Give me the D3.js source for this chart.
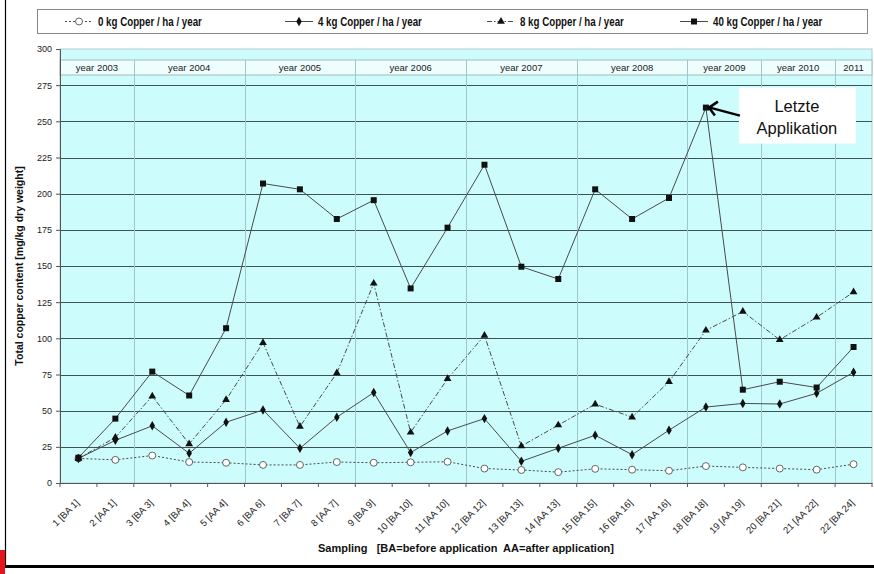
<!DOCTYPE html>
<html>
<head>
<meta charset="utf-8">
<script src="https://cdn.jsdelivr.net/npm/d3@7"></script>
<style>
  html, body { margin: 0; padding: 0; background: #fff; }
  svg { display: block; font-family: Arial, "Liberation Sans", sans-serif; }
</style>
</head>
<body>
<svg id="chart" width="874" height="574"></svg>
<script>
// Sampling dates (x categories)
const samples = ["1 [BA 1]", "2 [AA 1]", "3 [BA 3]", "4 [BA 4]", "5 [AA 4]", "6 [BA 6]",
  "7 [BA 7]", "8 [AA 7]", "9 [BA 9]", "10 [BA 10]", "11 [AA 10]", "12 [BA 12]",
  "13 [BA 13]", "14 [AA 13]", "15 [BA 15]", "16 [BA 16]", "17 [AA 16]", "18 [BA 18]",
  "19 [AA 19]", "20 [BA 21]", "21 [AA 22]", "22 [BA 24]"];

// Total copper content [mg/kg dry weight] per treatment
const cu0  = [17, 16, 19, 14.5, 14, 12.5, 12.5, 14.5, 14, 14.3, 14.7, 10, 9, 7.5, 9.8, 9.2, 8.5, 11.7, 10.8, 10, 9.2, 13];
const cu4  = [17, 29.5, 39.5, 20.5, 42, 50.5, 24, 45.5, 62.5, 21, 36, 44.5, 15, 24, 33, 19.6, 36.5, 52.5, 55, 54.6, 62, 76.5];
const cu8  = [17, 31.5, 60, 27, 57.5, 97, 39, 76, 138, 35, 72, 102, 25.5, 40, 54.5, 45.5, 70, 105.5, 118.5, 99, 114.5, 132];
const cu40 = [17.5, 44.5, 77, 60.5, 107, 207, 203, 182.5, 195.5, 134.5, 176.5, 220, 149.5, 141, 203, 182.5, 197, 259.5, 64.5, 70, 66, 94];

// Year groups along the top of the plot: label and number of samplings
const years = ["year 2003", "year 2004", "year 2005", "year 2006", "year 2007", "year 2008", "year 2009", "year 2010", "2011"];
const yearSpans = [2, 3, 3, 3, 3, 3, 2, 2, 1];

const legendLabels = ["0 kg Copper / ha / year", "4 kg Copper / ha / year", "8 kg Copper / ha / year", "40 kg Copper / ha / year"];
const yTicks = [0, 25, 50, 75, 100, 125, 150, 175, 200, 225, 250, 275, 300];

const svg = d3.select("#chart");
const plot = { left: 60, right: 872, top: 49, bottom: 483 };

const x = d3.scaleBand().domain(samples).range([plot.left, plot.right]).paddingInner(0).paddingOuter(0);
const y = d3.scaleLinear().domain([0, 300]).range([plot.bottom, plot.top]);
const cx = d => x(d) + x.bandwidth() / 2;

// outer frame pieces
svg.append("line").attr("x1", 5.5).attr("x2", 5.5).attr("y1", 0).attr("y2", 567)
  .attr("stroke", "#000").attr("stroke-width", 1.2);
svg.append("rect").attr("x", 5).attr("y", 565).attr("width", 869).attr("height", 3).attr("fill", "#000");
svg.append("rect").attr("x", 0).attr("y", 550).attr("width", 5).attr("height", 24).attr("fill", "#e8141c");

// plot background
svg.append("rect").attr("x", plot.left).attr("y", plot.top)
  .attr("width", plot.right - plot.left).attr("height", plot.bottom - plot.top)
  .attr("fill", "#cdfcfc").attr("stroke", "#b9c9c9").attr("stroke-width", 1);

// horizontal gridlines
svg.append("g").selectAll("line").data(yTicks.filter(t => t > 0 && t < 300)).join("line")
  .attr("x1", plot.left).attr("x2", plot.right)
  .attr("y1", d => Math.round(y(d)) + 0.5).attr("y2", d => Math.round(y(d)) + 0.5)
  .attr("stroke", "#3d5252").attr("stroke-width", 1);

// year band and dividers
const yearStart = [];
yearSpans.reduce((acc, n, i) => { yearStart.push(acc); return acc + n; }, 0);
const bandTop = 60, bandBottom = 75;
svg.append("rect").attr("x", plot.left).attr("y", bandTop)
  .attr("width", plot.right - plot.left).attr("height", bandBottom - bandTop)
  .attr("fill", "#eefefe").attr("stroke", "#a9b9b9").attr("stroke-width", 1);
const yearG = svg.append("g");
years.forEach((label, i) => {
  const x0 = x(samples[yearStart[i]]);
  const x1 = x(samples[yearStart[i] + yearSpans[i] - 1]) + x.bandwidth();
  if (i > 0) {
    yearG.append("line").attr("x1", Math.round(x0) + 0.5).attr("x2", Math.round(x0) + 0.5)
      .attr("y1", bandTop).attr("y2", plot.bottom)
      .attr("stroke", "#9fc6cc").attr("stroke-width", 1);
  }
  yearG.append("text").attr("x", (x0 + x1) / 2).attr("y", 71)
    .attr("text-anchor", "middle").attr("font-size", 9.5).attr("fill", "#222").text(label);
});

// axes
const yAxis = d3.axisLeft(y).tickValues(yTicks).tickSize(4).tickPadding(4);
const gy = svg.append("g").attr("transform", `translate(${plot.left},0)`).call(yAxis);
gy.select(".domain").attr("stroke", "#555");
gy.selectAll(".tick line").attr("stroke", "#555");
gy.selectAll(".tick text").attr("font-size", 9).attr("fill", "#222").attr("font-family", "Arial, 'Liberation Sans', sans-serif");

const xAxis = d3.axisBottom(x).tickSize(0).tickPadding(0);
const gx = svg.append("g").attr("transform", `translate(0,${plot.bottom})`).call(xAxis);
gx.select(".domain").attr("stroke", "#555");
gx.selectAll(".tick text")
  .attr("font-size", 9.5).attr("fill", "#222").attr("font-family", "Arial, 'Liberation Sans', sans-serif")
  .attr("text-anchor", "end")
  .attr("transform", "translate(-1,18) rotate(-45)")
  .attr("dy", "0.35em").attr("y", 0);
// tick marks on category boundaries
gx.append("g").selectAll("line").data(d3.range(samples.length + 1)).join("line")
  .attr("x1", i => plot.left + i * x.step()).attr("x2", i => plot.left + i * x.step())
  .attr("y1", 0).attr("y2", 4).attr("stroke", "#555");

// axis titles
svg.append("text").attr("transform", `translate(23,${(plot.top + plot.bottom) / 2}) rotate(-90)`)
  .attr("text-anchor", "middle").attr("font-weight", "bold").attr("font-size", 10.5).attr("fill", "#111")
  .text("Total copper content [mg/kg dry weight]");
svg.append("text").attr("x", 466).attr("y", 552)
  .attr("text-anchor", "middle").attr("font-weight", "bold").attr("font-size", 11).attr("fill", "#111")
  .attr("xml:space", "preserve").style("white-space", "pre")
  .text("Sampling   [BA=before application  AA=after application]");

// series
const series = [
  { values: cu0,  dash: "2,2",       marker: "circle" },
  { values: cu4,  dash: null,        marker: "diamond" },
  { values: cu8,  dash: "5,2,1.5,2", marker: "triangle" },
  { values: cu40, dash: null,        marker: "square" }
];
const lineColor = "#4a4a4a";
const symbolFor = {
  circle: d3.symbol().type(d3.symbolCircle).size(38),
  diamond: d3.symbol().type(d3.symbolDiamond).size(26),
  triangle: d3.symbol().type(d3.symbolTriangle).size(26),
  square: d3.symbol().type(d3.symbolSquare).size(36)
};
function drawMarker(g, kind, px, py) {
  g.append("path").attr("d", symbolFor[kind]()).attr("transform", `translate(${px},${py})`)
    .attr("fill", kind === "circle" ? "#fff" : "#111")
    .attr("stroke", kind === "circle" ? "#555" : "none").attr("stroke-width", 0.9);
}
const line = d3.line().x((d, i) => cx(samples[i])).y(d => y(d));
series.forEach(s => {
  const g = svg.append("g");
  g.append("path").datum(s.values).attr("d", line).attr("fill", "none")
    .attr("stroke", lineColor).attr("stroke-width", 1)
    .attr("stroke-dasharray", s.dash);
  s.values.forEach((v, i) => drawMarker(g, s.marker, cx(samples[i]), y(v)));
});

// annotation for the last application (maximum of the 40 kg series)
const peakIdx = cu40.indexOf(d3.max(cu40));
const px = cx(samples[peakIdx]), py = y(cu40[peakIdx]);
const ann = svg.append("g");
ann.append("rect").attr("x", px + 33).attr("y", py - 20).attr("width", 117).attr("height", 56).attr("fill", "#fff");
ann.append("text").attr("x", px + 91).attr("y", py + 4).attr("text-anchor", "middle")
  .attr("font-size", 16.5).attr("fill", "#111").text("Letzte");
ann.append("text").attr("x", px + 91).attr("y", py + 26).attr("text-anchor", "middle")
  .attr("font-size", 16.5).attr("fill", "#111").text("Applikation");
ann.append("line").attr("x1", px + 34).attr("y1", py + 8).attr("x2", px + 4).attr("y2", py)
  .attr("stroke", "#000").attr("stroke-width", 2.5);
ann.append("path").attr("d", `M${px + 12},${py - 6} L${px + 3},${py} L${px + 9},${py + 8}`)
  .attr("fill", "none").attr("stroke", "#000").attr("stroke-width", 2.5).attr("stroke-linejoin", "miter");

// legend
const legend = svg.append("g");
legend.append("rect").attr("x", 37.5).attr("y", 9.5).attr("width", 830).attr("height", 24)
  .attr("fill", "#fff").attr("stroke", "#888").attr("stroke-width", 1);
const legendX = [65, 285, 487, 680];
series.forEach((s, i) => {
  const lx = legendX[i], ly = 21.5;
  legend.append("line").attr("x1", lx).attr("x2", lx + 28).attr("y1", ly).attr("y2", ly)
    .attr("stroke", lineColor).attr("stroke-width", 1).attr("stroke-dasharray", s.dash);
  drawMarker(legend, s.marker, lx + 14, ly);
  legend.append("text").attr("transform", `translate(${lx + 33},${ly + 4.5}) scale(0.78,1)`)
    .attr("font-weight", "bold").attr("font-size", 12.5).attr("fill", "#111").text(legendLabels[i]);
});
</script>
</body>
</html>
